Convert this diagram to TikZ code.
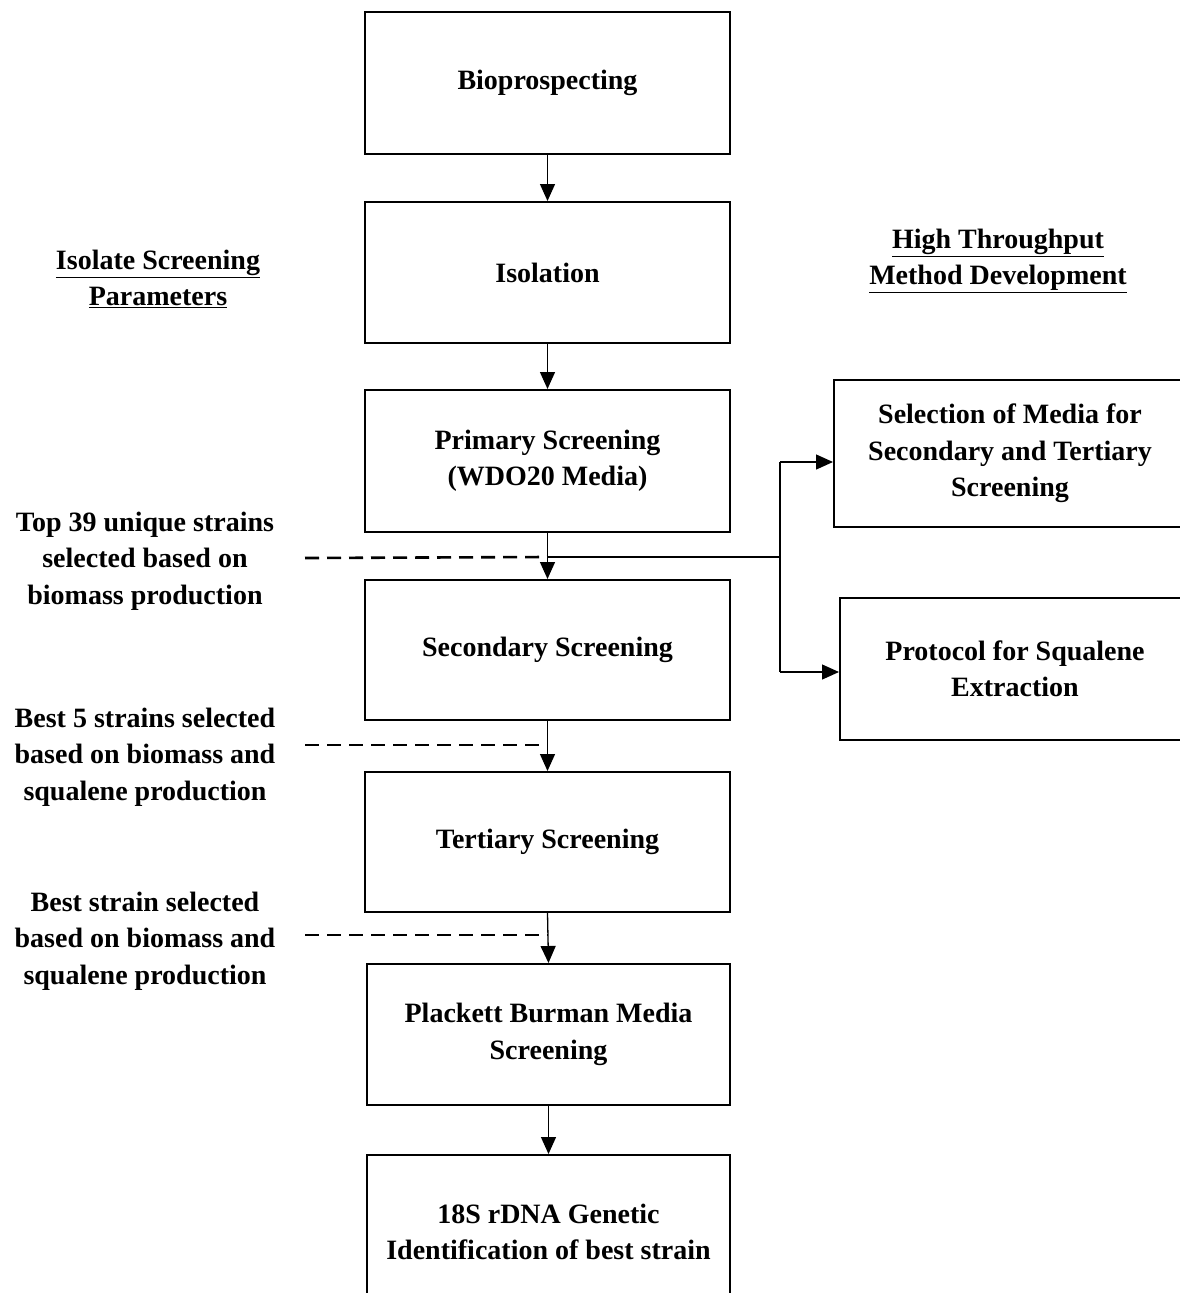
\documentclass[tikz,border=0pt]{standalone}
\usepackage{fontspec}
\setmainfont{Liberation Serif}
\usetikzlibrary{arrows.meta}
\begin{document}
\begin{tikzpicture}[x=1pt,y=-1pt,
  box/.style={draw,line width=2pt,inner sep=0pt,align=center,font=\bfseries\fontsize{28}{36.5}\selectfont},
  lbl/.style={align=center,inner sep=0pt,font=\bfseries\fontsize{28}{36.5}\selectfont},
  arr/.style={line width=1.3pt,-{Triangle[length=17pt,width=15pt]}},
  dsh/.style={line width=2.6pt,dash pattern=on 14pt off 8pt},
  ln/.style={line width=1.3pt}]
\useasboundingbox (0,0) rectangle (1180,1293);
\clip (0,0) rectangle (1180,1293);
\node[box,minimum width=365pt,minimum height=142pt] (b1) at (547.5,83) {Bioprospecting};
\node[box,minimum width=365pt,minimum height=141pt] (b2) at (547.5,272.5) {Isolation};
\node[box,minimum width=365pt,minimum height=142pt] (b3) at (547.5,461) {Primary Screening\\(WDO20 Media)};
\node[box,minimum width=365pt,minimum height=140pt] (b4) at (547.5,650) {Secondary Screening};
\node[box,minimum width=365pt,minimum height=140pt] (b5) at (547.5,842) {Tertiary Screening};
\node[box,minimum width=363pt,minimum height=141pt] (b6) at (548.5,1034.5) {Plackett Burman Media\\Screening};
\node[box,minimum width=363pt,minimum height=154pt] (b7) at (548.5,1232) {18S rDNA Genetic\\Identification of best strain};
\node[box,minimum width=352pt,minimum height=147pt] (r1) at (1010,453.5) {Selection of Media for\\Secondary and Tertiary\\Screening};
\node[box,minimum width=350pt,minimum height=142pt] (r2) at (1015,669) {Protocol for Squalene\\Extraction};

\node[lbl] (h1) at (158,279) {\underline{Isolate Screening}\\\underline{Parameters}};
\node[lbl] (h2) at (998,261) {\underline{High Throughput}\\\underline{Method Development}};
\node[lbl] (t1) at (145,561) {Top 39 unique strains\\selected based on\\biomass production};
\node[lbl] (t2) at (145,757) {Best 5 strains selected\\based on biomass and\\squalene production};
\node[lbl] (t3) at (145,941) {Best strain selected\\based on biomass and\\squalene production};

\draw[arr] (b1.south) -- (b2.north);
\draw[arr] (b2.south) -- (b3.north);
\draw[arr] (b3.south) -- (b4.north);
\draw[arr] (b4.south) -- (b5.north);
\draw[arr] (b5.south) -- (b6.north);
\draw[arr] (b6.south) -- (b7.north);

\coordinate (j) at (547.5,557);
\coordinate (bx) at (780,557);
\draw[ln] (j) -- (bx);
\draw[ln] (780,462) -- (780,672);
\draw[arr] (780,462) -- (r1.west |- 0,462);
\draw[arr] (780,672) -- (r2.west |- 0,672);

\draw[dsh] (305,558) -- (j);
\draw[dsh] (305,745) -- (547.5,745);
\draw[dsh] (305,935) -- (547.5,935);
\end{tikzpicture}
\end{document}
